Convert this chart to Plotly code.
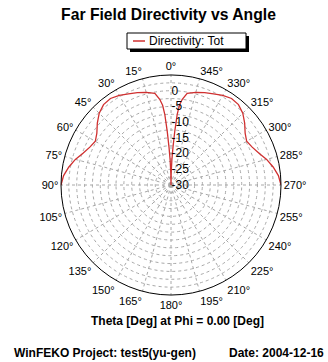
import plotly.graph_objects as go

# Directivity (dBi) vs theta, phi = 0 cut (upper hemisphere, symmetric)
theta_half = [0, 1, 2, 3, 4, 5, 6, 7.5, 10, 15, 20, 25, 30, 35, 40, 45, 50, 55, 60, 65, 70, 75, 80, 85, 90]
directivity_half = [-30, -26, -22, -18, -13, -7.5, -4.5, -2.5, -0.4, 0.5, 1.3, 2.0, 2.9, 3.6, 3.4, 2.3, 0.6, -1.2, -2.2, -1.5, -0.3, 1.5, 3.0, 4.3, 5.0]

# Full cut ordered 270 ... 360(0) ... 90; the 270..360 side mirrors 0..90
theta = [360 - t for t in theta_half[::-1][:-1]] + theta_half
directivity = directivity_half[::-1][:-1] + directivity_half

radial_range = [-30, 5]
radial_ticks = [-30, -27.5, -25, -22.5, -20, -17.5, -15, -12.5, -10, -7.5, -5, -2.5, 0, 2.5, 5]
radial_labels = ["-30", "", "-25", "", "-20", "", "-15", "", "-10", "", "-5", "", "0", "", ""]
angle_ticks = list(range(0, 360, 15))
angle_labels = [f"{a}\u00b0" for a in angle_ticks]
legend_label = "Directivity: Tot"

W, H = 328, 362
cx, cy, R = 171, 185, 110
RED = "#d03030"
GRID = "#a8a8a8"

def px(x):
    return x / W

def py(y):
    return 1 - y / H

fig = go.Figure()
fig.add_trace(go.Scatterpolar(
    r=directivity, theta=theta, mode="lines",
    line=dict(color=RED, width=1.3),
    name=legend_label, showlegend=False,
))

fig.update_layout(
    width=W, height=H,
    margin=dict(l=0, r=0, t=0, b=0),
    paper_bgcolor="white",
    font=dict(family="Liberation Sans, Arial", color="black", size=11),
    title=dict(text="<b>Far Field Directivity vs Angle</b>", x=px(168.5), xanchor="center",
               y=py(15), yanchor="middle", font=dict(size=15.7)),
    showlegend=False,
    polar=dict(
        domain=dict(x=[px(cx - R), px(cx + R)], y=[py(cy + R), py(cy - R)]),
        bgcolor="white",
        angularaxis=dict(
            rotation=90, direction="counterclockwise",
            tickmode="array", tickvals=angle_ticks, ticktext=angle_labels,
            showline=True, linecolor="black", linewidth=1,
            ticks="", gridcolor=GRID, gridwidth=1, griddash="3px,3px",
            tickfont=dict(size=11, family="Liberation Sans, Arial"),
        ),
        radialaxis=dict(
            range=radial_range, angle=90, tickangle=90,
            tickmode="array", tickvals=radial_ticks, ticktext=radial_labels,
            showline=False, ticks="",
            gridcolor=GRID, gridwidth=1, griddash="3px,3px",
            tickfont=dict(size=12, family="Liberation Sans, Arial"),
            side="clockwise",
        ),
    ),
    annotations=[
        dict(text=legend_label, x=px(147), y=py(41), xref="paper", yref="paper",
             xanchor="left", yanchor="middle", showarrow=False, font=dict(size=12)),
        dict(text="<b>Theta [Deg] at Phi = 0.00 [Deg]</b>", x=px(177.5), y=py(321),
             xref="paper", yref="paper", xanchor="center", yanchor="middle",
             showarrow=False, font=dict(size=12)),
        dict(text="<b>WinFEKO Project: test5(yu-gen)</b>", x=px(12), y=py(353),
             xref="paper", yref="paper", xanchor="left", yanchor="middle",
             showarrow=False, font=dict(size=12)),
        dict(text="<b>Date: 2004-12-16</b>", x=px(326), y=py(353),
             xref="paper", yref="paper", xanchor="right", yanchor="middle",
             showarrow=False, font=dict(size=12)),
    ],
    shapes=[
        # legend shadow
        dict(type="rect", xref="paper", yref="paper", layer="above",
             x0=px(130), x1=px(249), y0=py(52), y1=py(36),
             fillcolor="black", line=dict(width=0)),
        # legend box
        dict(type="rect", xref="paper", yref="paper", layer="above",
             x0=px(127), x1=px(246), y0=py(49), y1=py(33),
             fillcolor="white", line=dict(color="black", width=1)),
        # legend line sample
        dict(type="line", xref="paper", yref="paper", layer="above",
             x0=px(133), x1=px(145), y0=py(41), y1=py(41),
             line=dict(color=RED, width=1.5)),
    ],
)

fig.write_html("out.html", config={"displayModeBar": False},
               post_script="document.body.style.margin='0';")
